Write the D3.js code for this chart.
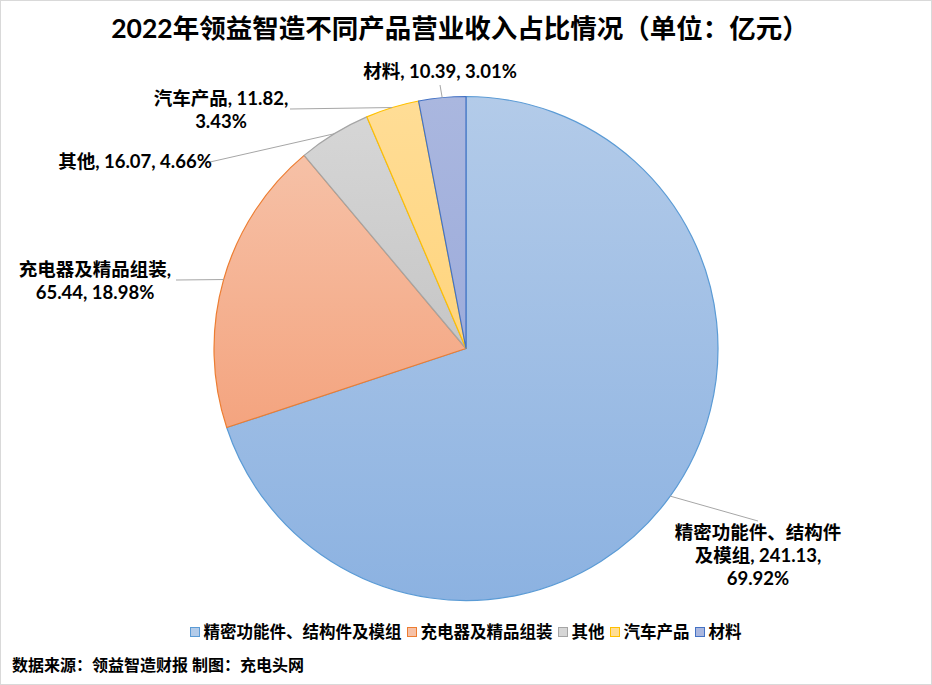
<!DOCTYPE html>
<html>
<head>
<meta charset="utf-8">
<script src="https://cdn.jsdelivr.net/npm/d3@7"></script>
<style>
  body { margin: 0; background: #fff; }
  svg { display: block; font-family: "Lato", "Noto Sans CJK SC", sans-serif; }
</style>
</head>
<body>
<svg id="chart" width="932" height="685"></svg>
<script>
const title = "2022年领益智造不同产品营业收入占比情况（单位：亿元）";
const categories = ["精密功能件、结构件及模组", "充电器及精品组装", "其他", "汽车产品", "材料"];
const values = [241.13, 65.44, 16.07, 11.82, 10.39];
const percents = ["69.92%", "18.98%", "4.66%", "3.43%", "3.01%"];
const source = "数据来源：领益智造财报 制图：充电头网";

// fill gradient (top, bottom) and edge colour for each slice
const fillTop = ["#b3cbe9", "#f6c1a7", "#d6d6d6", "#ffdd96", "#aab7df"];
const fillBottom = ["#8cb2e1", "#f4a47f", "#c6c6c6", "#ffd47d", "#9dacdb"];
const edges = ["#5b9bd5", "#ed7d31", "#a5a5a5", "#ffc000", "#4472c4"];

const width = 932, height = 685;
const cx = 466, cy = 348.5, radius = 252;

const svg = d3.select("#chart");

svg.append("rect")
  .attr("x", 0.5).attr("y", 0.5)
  .attr("width", width - 1).attr("height", height - 1)
  .attr("fill", "#fff")
  .attr("stroke", "#d9d9d9");

svg.append("text")
  .attr("x", cx - 6)
  .attr("y", 38)
  .attr("text-anchor", "middle")
  .style("font-size", "26.5px")
  .style("font-weight", "bold")
  .attr("fill", "#000")
  .text(title);

const defs = svg.append("defs");
categories.forEach((c, i) => {
  const grad = defs.append("linearGradient")
    .attr("id", "grad" + i)
    .attr("x1", 0).attr("y1", 0).attr("x2", 0).attr("y2", 1);
  grad.append("stop").attr("offset", "0%").attr("stop-color", fillTop[i]);
  grad.append("stop").attr("offset", "100%").attr("stop-color", fillBottom[i]);
});

const pie = d3.pie().sort(null).value((d) => d.value);
const data = categories.map((c, i) => ({ name: c, value: values[i], pct: percents[i], i }));
const arcs = pie(data);

const arc = d3.arc().innerRadius(0).outerRadius(radius);

const g = svg.append("g").attr("transform", `translate(${cx},${cy})`);

g.selectAll(".slice")
  .data(arcs)
  .enter()
  .append("path")
  .attr("class", "slice")
  .attr("d", arc)
  .attr("fill", (d) => `url(#grad${d.data.i})`)
  .attr("stroke", (d) => edges[d.data.i])
  .attr("stroke-width", 1.2)
  .attr("stroke-linejoin", "round");

// label placement: text anchor point and where the leader line meets the label
const labelLayout = [
  { x: 758, y: 533, lx: 758, ly: 521, breaks: ["精密功能件、结构件", "及模组, 241.13,", null] },
  { x: 95, y: 270, lx: 176, ly: 280, breaks: ["充电器及精品组装,", null] },
  { x: 135, y: 162, lx: 210, ly: 162, breaks: [null] },
  { x: 221, y: 99, lx: 290, ly: 109, breaks: ["汽车产品, 11.82,", null] },
  { x: 440, y: 72, lx: 440, ly: 85, breaks: [null] },
];

arcs.forEach((d) => {
  const i = d.data.i;
  const lay = labelLayout[i];
  const full = `${d.data.name}, ${d.data.value}, ${d.data.pct}`;
  let rest = full;
  const lines = lay.breaks.map((b) => {
    if (b === null) return rest;
    rest = rest.slice(b.length).trim();
    return b;
  });

  const mid = (d.startAngle + d.endAngle) / 2;
  const ex = cx + radius * Math.sin(mid);
  const ey = cy - radius * Math.cos(mid);

  svg.append("line")
    .attr("x1", ex).attr("y1", ey)
    .attr("x2", lay.lx).attr("y2", lay.ly)
    .attr("stroke", "#a6a6a6")
    .attr("stroke-width", 1);

  const t = svg.append("text")
    .attr("text-anchor", "middle")
    .style("font-size", "18.5px")
    .style("font-weight", "bold")
    .attr("fill", "#000");
  lines.forEach((ln, k) => {
    t.append("tspan")
      .attr("x", lay.x)
      .attr("y", lay.y + k * 23)
      .attr("dy", "0.35em")
      .text(ln);
  });
});

// legend
const legend = svg.append("g").attr("class", "legend");
let lxPos = 0;
const items = [];
categories.forEach((c, i) => {
  const item = legend.append("g");
  item.append("rect")
    .attr("x", 0).attr("y", -4.5)
    .attr("width", 9).attr("height", 9)
    .attr("fill", fillTop[i])
    .attr("stroke", edges[i])
    .attr("stroke-width", 1);
  const txt = item.append("text")
    .attr("x", 13)
    .attr("y", 0)
    .attr("dy", "0.35em")
    .style("font-size", "16.5px")
    .style("font-weight", "bold")
    .attr("fill", "#000")
    .text(c);
  const w = 13 + txt.node().getComputedTextLength();
  items.push({ item, w });
});
items.forEach(({ item, w }) => {
  item.attr("transform", `translate(${lxPos},0)`);
  lxPos += w + 6;
});
legend.attr("transform", `translate(${cx - (lxPos - 6) / 2},632)`);

svg.append("text")
  .attr("x", 12)
  .attr("y", 665)
  .attr("dy", "0.35em")
  .style("font-size", "16px")
  .style("font-weight", "bold")
  .attr("fill", "#000")
  .text(source);
</script>
</body>
</html>
